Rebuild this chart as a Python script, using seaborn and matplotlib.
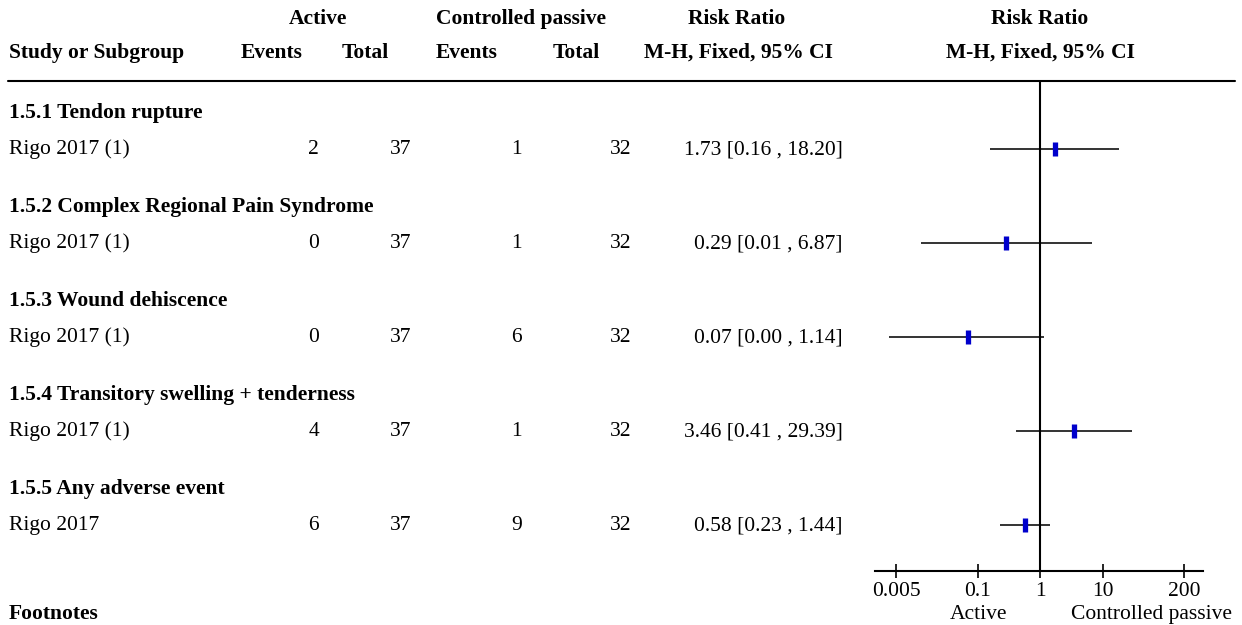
import matplotlib
matplotlib.use("Agg")
import matplotlib.pyplot as plt
import matplotlib.transforms as mtransforms
import seaborn as sns
import pandas as pd

# data
subgroups = ["1.5.1 Tendon rupture", "1.5.2 Complex Regional Pain Syndrome",
             "1.5.3 Wound dehiscence", "1.5.4 Transitory swelling + tenderness",
             "1.5.5 Any adverse event"]
studies = ["Rigo 2017 (1)", "Rigo 2017 (1)", "Rigo 2017 (1)", "Rigo 2017 (1)", "Rigo 2017"]
events_active = [2, 0, 0, 4, 6]
total_active = [37, 37, 37, 37, 37]
events_passive = [1, 1, 6, 1, 9]
total_passive = [32, 32, 32, 32, 32]
rr = [1.73, 0.29, 0.07, 3.46, 0.58]
ci_low = [0.16, 0.0123, 0.0038, 0.41, 0.23]
ci_high = [18.20, 6.87, 1.14, 29.39, 1.44]
tick_vals = [0.005, 0.1, 1, 10, 200]
tick_labels = ["0.005", "0.1", "1", "10", "200"]

df = pd.DataFrame({"row": range(len(rr)), "rr": rr, "lo": ci_low, "hi": ci_high})

sns.set_theme(style="white")
plt.rcParams["font.family"] = ["Liberation Serif", "DejaVu Serif"]
plt.rcParams["text.color"] = "black"
plt.rcParams["xtick.color"] = "black"
plt.rcParams["xtick.labelcolor"] = "black"
FS = 15.5

W, H = 1242, 625
fig = plt.figure(figsize=(W / 100, H / 100), dpi=100)

# full-figure axes in pixel units for the table text
tax = fig.add_axes([0, 0, 1, 1])
tax.set_xlim(0, W)
tax.set_ylim(H, 0)
tax.axis("off")

# forest plot axes
x0, x1, ytop, ybot = 875, 1203, 81, 571
fax = fig.add_axes([x0 / W, (H - ybot) / H, (x1 - x0) / W, (ybot - ytop) / H])
fax.set_xscale("log")
fax.set_xlim(10 ** -2.64, 10 ** 2.608)
row_gap = 94
first_row = 149
fax.set_ylim((ybot - first_row) / row_gap, (ytop - first_row) / row_gap)
fax.patch.set_alpha(0)

fax.hlines(df["row"], df["lo"], df["hi"], color="#111111", lw=1.2)
sns.scatterplot(data=df, x="rr", y="row", marker="|", s=110, linewidth=3.8,
                color="#0000CC", ax=fax, zorder=3, legend=False)
fax.axvline(1, color="black", lw=1.5)

for side in ["top", "right", "left"]:
    fax.spines[side].set_visible(False)
fax.spines["bottom"].set_linewidth(1.5)
fax.spines["bottom"].set_color("black")
fax.set_xticks(tick_vals)
fax.set_xticklabels(tick_labels, fontsize=FS)
fax.xaxis.set_minor_locator(matplotlib.ticker.NullLocator())
fax.tick_params(axis="x", bottom=True, direction="inout", length=9.5, width=1.2,
                pad=3, color="black", labelcolor="black")
fax.set_yticks([])
fax.set_xlabel("")
fax.set_ylabel("")

# top rule across the table
tax.plot([8, 1235], [ytop, ytop], color="black", lw=1.5)

# header rows
h1, h2 = 24, 58
bold = dict(fontsize=FS, fontweight="bold", va="baseline", color="black")
tax.text(318, h1, "Active", ha="center", **bold)
tax.text(521, h1, "Controlled passive", ha="center", **bold)
tax.text(737, h1, "Risk Ratio", ha="center", **bold)
tax.text(9, h2, "Study or Subgroup", ha="left", **bold)
tax.text(272, h2, "Events", ha="center", **bold)
tax.text(365, h2, "Total", ha="center", **bold)
tax.text(467, h2, "Events", ha="center", **bold)
tax.text(576, h2, "Total", ha="center", **bold)
tax.text(738, h2, "M-H, Fixed, 95% CI", ha="center", **bold)

blend = mtransforms.blended_transform_factory(fax.transData, tax.transData)
tax.text(1, h1, "Risk Ratio", ha="center", transform=blend, **bold)
tax.text(1, h2, "M-H, Fixed, 95% CI", ha="center", transform=blend, **bold)

reg = dict(fontsize=FS, va="baseline", color="black")
for i in range(len(rr)):
    yb = first_row + i * row_gap
    tax.text(9, yb - 31, subgroups[i], ha="left", **bold)
    tax.text(9, yb + 5, studies[i], ha="left", **reg)
    tax.text(319, yb + 5, str(events_active[i]), ha="right", **reg)
    tax.text(411, yb + 5, str(total_active[i]), ha="right", **reg)
    tax.text(522, yb + 5, str(events_passive[i]), ha="right", **reg)
    tax.text(631, yb + 5, str(total_passive[i]), ha="right", **reg)
    tax.text(843, yb + 5, f"{rr[i]:.2f} [{ci_low[i]:.2f} , {ci_high[i]:.2f}]", ha="right", **reg)

tax.text(9, 619, "Footnotes", ha="left", **bold)
tax.text(979, 619, "Active", ha="center", **reg)
tax.text(1232, 619, "Controlled passive", ha="right", **reg)

fig.savefig("out.png", dpi=100)
